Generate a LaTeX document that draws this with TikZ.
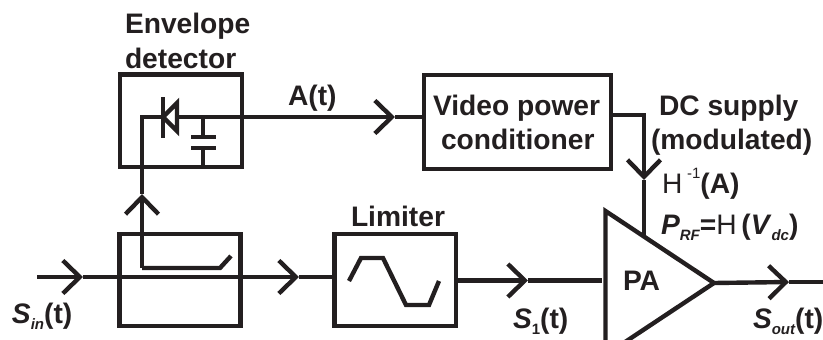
\documentclass[tikz,border=0pt]{standalone}
\usepackage{fontspec}
\setmainfont{Liberation Sans}
\usetikzlibrary{arrows.meta}
\definecolor{inkblack}{HTML}{231F20}
\newcommand{\subtxt}[1]{\raisebox{-0.22em}{\fontsize{15}{15}\selectfont\bfseries\itshape #1}}
\tikzset{
  wire/.style={line width=4.4pt, color=inkblack, line join=miter},
  barb/.style={wire, -{Straight Barb[length=17pt, width=33pt, line width=4.4pt]}},
  blockbox/.style={draw=inkblack, line width=4.4pt, fill=none, inner sep=0pt, outer sep=0pt},
  lbl/.style={anchor=base west, inner sep=0pt, outer sep=0pt, text=inkblack, font=\fontsize{28.2}{28.2}\selectfont\bfseries},
}
\begin{document}
\begin{tikzpicture}[x=1pt, y=-1pt]
    \clip (0,0) rectangle (823,340);

    % Blocks
    \node[blockbox, minimum width=121.5pt, minimum height=92.5pt] (envbox) at (181,120.7) {};
    \node[blockbox, minimum width=121pt, minimum height=92pt] (coupbox) at (180,280) {};
    \node[blockbox, minimum width=121.5pt, minimum height=92pt] (limbox) at (395.2,280) {};
    \node[blockbox, minimum width=187pt, minimum height=94pt] (vidbox) at (517.5,122) {};

    % Amplifier triangle, its lower corner falls below the page
    \coordinate (patop) at (605.5,211);
    \coordinate (pabot) at (605.5,355);
    \coordinate (paout) at (714,283);
    \draw[wire] (patop) -- (paout) -- (pabot) -- cycle;

    % Free points of the wires
    \coordinate (inleft) at (37,277);
    \coordinate (intip) at (83,277);
    \coordinate (midtip) at (299,277);
    \coordinate (s1tip) at (528,280.5);
    \coordinate (s1end) at (602,280.5);
    \coordinate (outtip) at (789,282);
    \coordinate (outend) at (823,282);
    \coordinate (atip) at (395,117);
    \coordinate (dctip) at (644,180);
    \coordinate (dccorner) at (644,115);
    \coordinate (dcend) at (644,235);
    \coordinate (uptip) at (142,194);
    \coordinate (takeoff) at (142,268);
    \coordinate (takebend) at (220,268);
    \coordinate (takeend) at (231,256);
    \coordinate (wirecorner) at (142,117);

    % Main signal path
    \draw[barb] (inleft) -- (intip);
    \draw[wire] (intip) -- (coupbox.east |- intip);
    \draw[barb] (coupbox.east |- intip) -- (midtip);
    \draw[wire] (midtip) -- (limbox.west |- midtip);
    \draw[barb] (limbox.east |- s1tip) -- (s1tip);
    \draw[wire] (s1tip) -- (s1end);
    \draw[barb] (paout) -- (outtip);
    \draw[wire] (outtip) -- (outend);

    % Coupler tap up to the detector
    \draw[barb] (takeoff) -- (uptip);
    \draw[wire] (takeend) -- (takebend) -- (takeoff);
    \draw[wire] (uptip) -- (wirecorner) -- (163,117);

    % Diode
    \coordinate (diodebar) at (163,117);
    \coordinate (diodeback) at (177,117);
    \draw[wire] (163,97) -- (163,138);
    \draw[wire] (diodebar) -- (177,103) -- (177,131) -- cycle;

    % Capacitor
    \coordinate (captop) at (203,117);
    \coordinate (capbot) at (203,167);
    \draw[wire] (captop) -- (203,137);
    \draw[wire] (191,137) -- (216,137);
    \draw[wire] (191,148) -- (216,148);
    \draw[wire] (203,148) -- (capbot);

    % Envelope and supply wires
    \draw[barb] (diodeback) -- (atip);
    \draw[wire] (atip) -- (vidbox.west |- atip);
    \draw[barb] (vidbox.east |- dccorner) -- (dccorner) -- (dctip);
    \draw[wire] (dctip) -- (dcend);

    % Limiter curve
    \draw[wire] (349,281) -- (361,258) -- (383,258) -- (406,305) -- (429,305) -- (439,281);

    % Labels
    \node[lbl] (envlabel) at (125,34) {Envelope};
    \node[lbl] (detlabel) at (125,68) {detector};
    \node[lbl] (alabel) at (288,105) {A(t)};
    \node[lbl] (vidlabel) at (433,115) {Video power};
    \node[lbl] (conlabel) at (441,149) {conditioner};
    \node[lbl] (limlabel) at (351,226) {Limiter};
    \node[lbl] (dclabel) at (659,115) {DC supply};
    \node[lbl] (modlabel) at (651,149) {(modulated)};
    \node[lbl] (palabel) at (623,290) {PA};
    \node[lbl] (hlabel) at (662,193) {{\mdseries H}\,\raisebox{0.5em}{\fontsize{15}{15}\selectfont\mdseries -1}(A)};
    \node[lbl] (plabel) at (661,234) {\textit{P}\subtxt{RF}={\mdseries H}\,(\textit{V}\subtxt{dc})};
    \node[lbl] (sinlabel) at (12,323) {\textit{S}\subtxt{in}(t)};
    \node[lbl] (s1label) at (513,328) {\textit{S}{\raisebox{-0.22em}{\fontsize{15}{15}\selectfont\bfseries 1}}(t)};
    \node[lbl] (soutlabel) at (753,328) {\textit{S}\subtxt{out}(t)};
\end{tikzpicture}
\end{document}
